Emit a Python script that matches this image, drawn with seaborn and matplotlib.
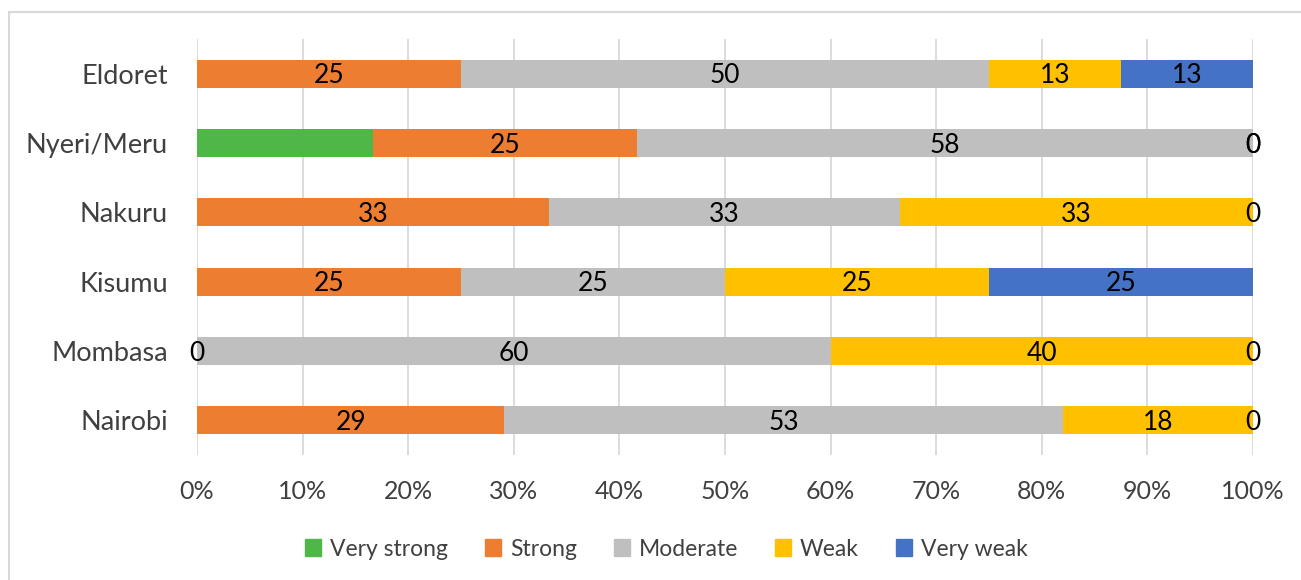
import numpy as np
import pandas as pd
import matplotlib
matplotlib.use("Agg")
import matplotlib.pyplot as plt
import matplotlib.patches as mpatches
import seaborn as sns

# Share of responses per city (percent of respondents)
cities = ["Eldoret", "Nyeri/Meru", "Nakuru", "Kisumu", "Mombasa", "Nairobi"]
very_strong = [0, 16.7, 0, 0, 0, 0]
strong = [25, 25, 33.3, 25, 0, 29.1]
moderate = [50, 58.3, 33.3, 25, 60, 52.9]
weak = [12.5, 0, 33.4, 25, 40, 18.0]
very_weak = [12.5, 0, 0, 25, 0, 0]

series_names = ["Very strong", "Strong", "Moderate", "Weak", "Very weak"]
series_values = [very_strong, strong, moderate, weak, very_weak]
series_colors = ["#4EB748", "#ED7D31", "#BFBFBF", "#FFC000", "#4472C4"]
labelled = [False, True, True, True, True]
x_ticks = [0, 10, 20, 30, 40, 50, 60, 70, 80, 90, 100]

sns.set_theme(style="white")
plt.rcParams["font.family"] = ["Lato", "DejaVu Sans"]

fig = plt.figure(figsize=(13.01, 5.80), dpi=100)
ax = fig.add_axes([197 / 1301, 1 - 455 / 580, (1253 - 197) / 1301, (455 - 39) / 580])

vals = np.array(series_values, dtype=float)
totals = vals.sum(axis=0)
pct = vals / totals * 100
cum = np.cumsum(pct, axis=0)

# Stacked bars: draw cumulative totals from the outermost segment inwards
for i in range(len(series_names) - 1, -1, -1):
    df = pd.DataFrame({"city": cities, "value": cum[i]})
    sns.barplot(data=df, x="value", y="city", order=cities, orient="h",
                color=series_colors[i], width=0.404, saturation=1,
                linewidth=0, ax=ax, zorder=2)

# Segment value labels
for i, name in enumerate(series_names):
    if not labelled[i]:
        continue
    for j, city in enumerate(cities):
        center = cum[i][j] - pct[i][j] / 2
        txt = str(int(np.floor(series_values[i][j] + 0.5)))
        ax.text(center, j + 0.03, txt, ha="center", va="center", fontsize=19,
                color="black", zorder=5)

ax.set_xlim(0, 100)
ax.set_ylim(len(cities) - 0.5, -0.5)
ax.set_xticks(x_ticks)
ax.set_xticklabels([f"{t}%" for t in x_ticks])
ax.set_xlabel("")
ax.set_ylabel("")
ax.xaxis.grid(True, color="#D9D9D9", linewidth=1.3, zorder=0)
ax.yaxis.grid(False)
ax.set_axisbelow(True)
for s in ax.spines.values():
    s.set_visible(False)
ax.tick_params(axis="x", length=0, pad=18, labelsize=18, labelcolor="#404040")
ax.tick_params(axis="y", length=0, pad=21, labelsize=19.5, labelcolor="#404040")

# Legend below the plot
handles = [mpatches.Patch(color=c, label=n) for n, c in zip(series_names, series_colors)]
fig.legend(handles=handles, loc="center", bbox_to_anchor=(0.512, 1 - 549 / 580),
           ncol=5, frameon=False, fontsize=16.5, handlelength=0.7, handleheight=0.7,
           handletextpad=0.4, columnspacing=1.6, labelcolor="#404040")

# Outer chart frame
frame = mpatches.Rectangle((9 / 1301, -0.05), 1.1, 1 - 12 / 580 + 0.05,
                           transform=fig.transFigure, fill=False,
                           edgecolor="#D9D9D9", linewidth=1.5)
fig.patches.append(frame)

fig.savefig("out.png", dpi=100)
